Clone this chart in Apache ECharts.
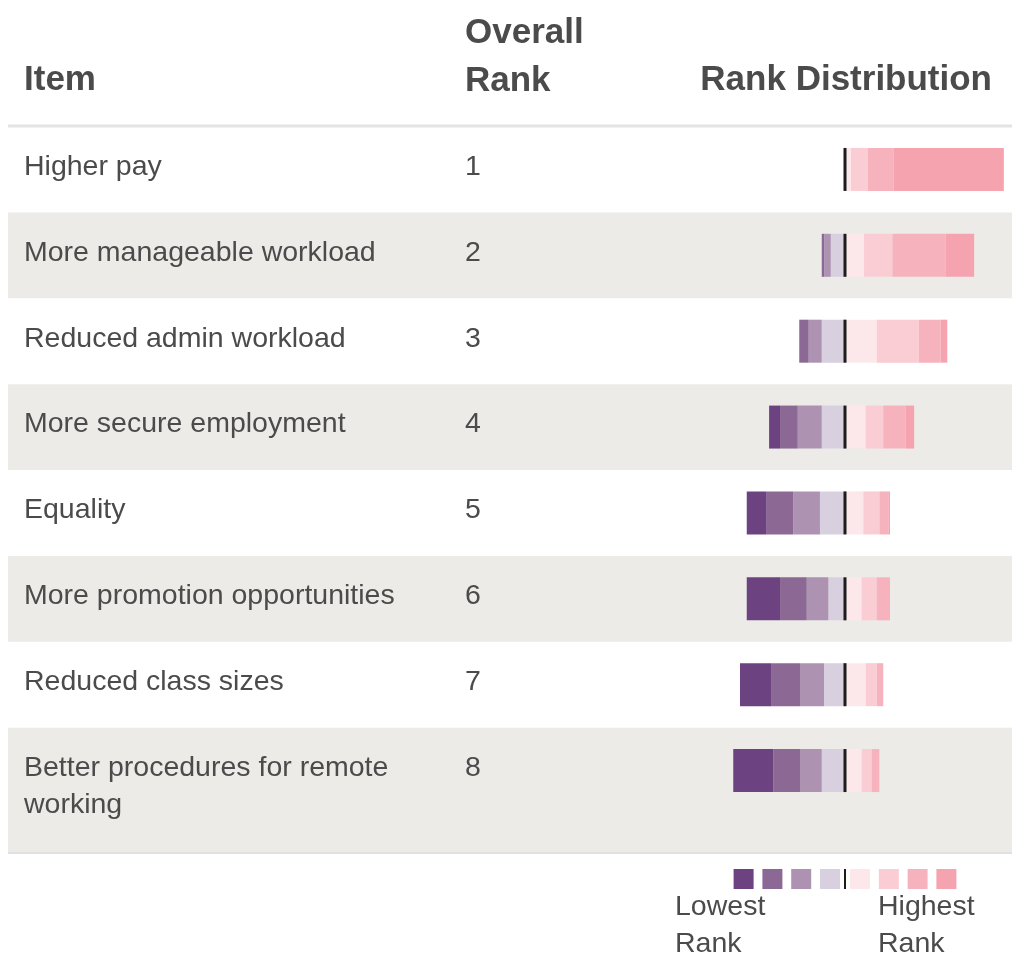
<!DOCTYPE html>
<html>
<head>
<meta charset="utf-8">
<script src="https://cdn.jsdelivr.net/npm/echarts@6/dist/echarts.min.js"></script>
<style>
  html, body { margin: 0; padding: 0; background: #fff; }
  #chart { width: 1012px; height: 955px; }
</style>
</head>
<body>
<div id="chart"></div>
<script>
// table rows
const items = [
    'Higher pay',
    'More manageable workload',
    'Reduced admin workload',
    'More secure employment',
    'Equality',
    'More promotion opportunities',
    'Reduced class sizes',
    'Better procedures for remote\nworking'
];
const overallRank = [1, 2, 3, 4, 5, 6, 7, 8];

// share of respondents (%) giving each rank
const rank8 = [0, 0, 0, 7.3, 13.3, 22.2, 20.7, 26.7];
const rank7 = [0, 1.7, 6.3, 11.8, 17.7, 17.8, 19.3, 17.8];
const rank6 = [0, 4.3, 8.7, 16.0, 17.8, 14.4, 16.0, 14.5];
const rank5 = [0, 9.5, 15.5, 15.5, 16.7, 11.1, 14.0, 15.5];
const rank4 = [4.0, 12.7, 21.1, 13.8, 12.2, 11.1, 13.8, 11.1];
const rank3 = [11.3, 18.9, 28.2, 11.7, 10.7, 10.0, 7.3, 6.7];
const rank2 = [17.3, 35.6, 14.5, 14.9, 6.0, 8.9, 4.4, 5.1];
const rank1 = [73.3, 18.9, 4.4, 5.7, 1.1, 0, 0, 0];

// lowest rank -> highest rank (legend order, left to right)
const rankLabels = ['Rank 8', 'Rank 7', 'Rank 6', 'Rank 5', 'Rank 4', 'Rank 3', 'Rank 2', 'Rank 1'];
const rankValues = [rank8, rank7, rank6, rank5, rank4, rank3, rank2, rank1];
const rankColors = ['#6d4280', '#8c6895', '#ad92b2', '#d8cfdf', '#fce8ea', '#f9cdd3', '#f7b3bd', '#f5a3af'];

const headers = ['Item', 'Overall\nRank', 'Rank Distribution'];
const legendText = ['Lowest\nRank', 'Highest\nRank'];

const FONT = '"Liberation Sans", Arial, Helvetica, sans-serif';
const textColor = '#4b4b4b';
const bandColor = '#edebe8';
const tableBottom = 852;

const myChart = echarts.init(document.getElementById('chart'));

// lower ranks go to the left of the centre line, higher ranks to the right
const series = [];
[3, 2, 1, 0].forEach(k => {
    series.push({
        name: rankLabels[k],
        type: 'bar',
        stack: 'dist',
        barWidth: 43,
        itemStyle: { color: rankColors[k] },
        data: rankValues[k].map(v => -v),
        silent: true
    });
});
[4, 5, 6, 7].forEach(k => {
    series.push({
        name: rankLabels[k],
        type: 'bar',
        stack: 'dist',
        barWidth: 43,
        itemStyle: { color: rankColors[k] },
        data: rankValues[k],
        silent: true
    });
});
// centre divider on each bar (scatter is 0.8 opacity by default)
series.push({
    type: 'scatter',
    symbol: 'rect',
    symbolSize: [3, 43],
    itemStyle: { color: '#1c1c1c', opacity: 1 },
    data: items.map((d, i) => [0, i]),
    z: 5,
    silent: true
});

myChart.setOption({
    animation: false,
    grid: { left: 725, width: 285, top: 126.5, height: 687 },
    xAxis: { type: 'value', min: -80, max: 110, show: false },
    yAxis: { type: 'category', data: items, inverse: true, show: false },
    series: series
});

// build the table around the bars using the axis positions
const cy = items.map((d, i) => myChart.convertToPixel({ yAxisIndex: 0 }, i));
const x0 = myChart.convertToPixel({ xAxisIndex: 0 }, 0);
const rowH = cy[1] - cy[0];
const graphics = [];
const rowFont = '28.5px ' + FONT;

items.forEach((name, i) => {
    const top = cy[i] - rowH / 2;
    const bottom = i === items.length - 1 ? tableBottom : top + rowH;
    if (i % 2 === 1) {
        graphics.push({
            type: 'rect', z: -10,
            shape: { x: 8, y: top, width: 1004, height: bottom - top },
            style: { fill: bandColor }
        });
    }
    graphics.push({
        type: 'text',
        style: {
            text: name, x: 24, y: cy[i] - 21, verticalAlign: 'top',
            font: rowFont, lineHeight: 37, fill: textColor
        }
    });
    graphics.push({
        type: 'text',
        style: {
            text: String(overallRank[i]), x: 465, y: cy[i] - 21, verticalAlign: 'top',
            font: rowFont, lineHeight: 37, fill: textColor
        }
    });
});

// header + rules
const headTop = cy[0] - rowH / 2;
graphics.push({
    type: 'rect', shape: { x: 8, y: headTop - 2, width: 1004, height: 3 },
    style: { fill: '#e4e4e4' }
});
graphics.push({
    type: 'rect', shape: { x: 8, y: tableBottom, width: 1004, height: 2 },
    style: { fill: '#e0e0e0' }
});
const headFont = 'bold 35px ' + FONT;
graphics.push({
    type: 'text',
    style: { text: headers[0], x: 24, y: 80, verticalAlign: 'middle', font: headFont, fill: textColor }
});
graphics.push({
    type: 'text',
    style: { text: headers[1], x: 465, y: 57, verticalAlign: 'middle', lineHeight: 48, font: headFont, fill: textColor }
});
graphics.push({
    type: 'text',
    style: { text: headers[2], x: 992, y: 80, align: 'right', verticalAlign: 'middle', font: headFont, fill: textColor }
});

// colour key under the table
const keyTop = 869, keySize = 20, keyStep = 28.8;
rankColors.forEach((c, k) => {
    const x = k < 4 ? x0 - 25 - (3 - k) * keyStep : x0 + 5 + (k - 4) * keyStep;
    graphics.push({
        type: 'rect', shape: { x: x, y: keyTop, width: keySize, height: keySize },
        style: { fill: c }
    });
});
graphics.push({
    type: 'rect', shape: { x: x0 - 1, y: keyTop, width: 2, height: keySize },
    style: { fill: '#1c1c1c' }
});
graphics.push({
    type: 'text',
    style: { text: legendText[0], x: 675, y: 889, verticalAlign: 'top', lineHeight: 37, font: rowFont, fill: textColor }
});
graphics.push({
    type: 'text',
    style: { text: legendText[1], x: 878, y: 889, verticalAlign: 'top', lineHeight: 37, font: rowFont, fill: textColor }
});

myChart.setOption({ graphic: graphics });
</script>
</body>
</html>
